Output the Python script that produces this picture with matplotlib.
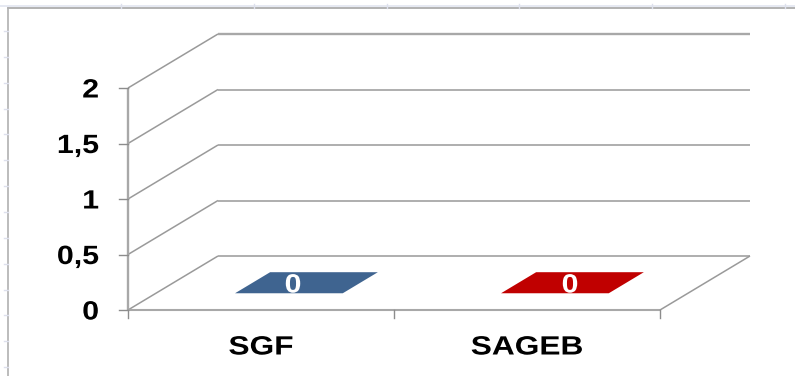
import numpy as np
import matplotlib
matplotlib.use("Agg")
import matplotlib.pyplot as plt
from matplotlib.patheffects import AbstractPathEffect
from matplotlib.transforms import Affine2D

categories = ["SGF", "SAGEB"]
values = [0, 0]
bar_colors = ["#3F6490", "#C00000"]
value_label_shift = [-13, -2]
y_ticks = [0, 0.5, 1, 1.5, 2]
y_labels = ["0", "0,5", "1", "1,5", "2"]

# front corner of the 3d box and how far the back wall is shifted, in pixels
X0, Y0 = 128.0, 310.0
CAT_W = 266.0
UNIT_H = 111.0
DEPTH_X, DEPTH_Y = 90.0, -54.0
BAR_W = 0.405
BAR_D0, BAR_D1 = 0.31, 0.70
GRID = "#A8A8A8"
FONT = "Liberation Sans"


class Widen(AbstractPathEffect):
    # stretches a text horizontally around its anchor, the font has no wide cut
    def __init__(self, anchor_x, factor):
        super().__init__()
        self.anchor_x = anchor_x
        self.factor = factor

    def draw_path(self, renderer, gc, tpath, affine, rgbFace=None):
        stretch = Affine2D().translate(-self.anchor_x, 0).scale(self.factor, 1).translate(self.anchor_x, 0)
        renderer.draw_path(gc, tpath, affine + stretch, rgbFace)


def wide_text(ax, x, y, s, ha, color="black", size=19, widen=1.15):
    t = ax.text(x, y, s, ha=ha, va="center_baseline", fontsize=size,
                fontweight="bold", family=FONT, color=color)
    t.set_path_effects([Widen(ax.transData.transform((x, y))[0], widen)])
    return t


def project(cat, val, depth=0.0):
    # category position, value and depth into figure pixels
    px = X0 + cat * CAT_W + depth * DEPTH_X
    py = Y0 - val * UNIT_H + depth * DEPTH_Y
    return px, py


def line3d(ax, a, b, lw=1.0, color=GRID):
    p = project(*a)
    q = project(*b)
    ax.plot([p[0], q[0]], [p[1], q[1]], color=color, lw=lw, solid_capstyle="butt")


fig = plt.figure(figsize=(7.95, 3.76), dpi=100)
ax = fig.add_axes([0, 0, 1, 1])
ax.set_xlim(0, 795)
ax.set_ylim(376, 0)
ax.axis("off")

ncat = len(categories)

# frame of the page behind the chart, with its faint ruler marks
ax.plot([0, 795], [5.5, 5.5], color="#E2E5F0", lw=1.2)
ax.plot([8, 795], [8, 8], color="#A6A6A6", lw=1.2)
ax.plot([8, 8], [8, 376], color="#B0B0B0", lw=1.2)
for ry in np.arange(31, 376, 25.85):
    ax.plot([4, 8], [ry, ry], color="#DDE0EC", lw=1.0)
for rx in np.arange(121, 795, 132.8):
    ax.plot([rx, rx], [4, 8], color="#DDE0EC", lw=1.0)

# gridlines on the side and back walls
for v in y_ticks:
    w = 1.7 if v == max(y_ticks) else 1.3
    line3d(ax, (0, v, 0), (0, v, 1), lw=1.1, color="#9A9A9A")
    line3d(ax, (0, v, 1), (ncat, v, 1), lw=w)

# floor edges
line3d(ax, (0, 0, 0), (ncat, 0, 0), lw=1.5)
line3d(ax, (ncat, 0, 0), (ncat, 0, 1), lw=1.1, color="#9A9A9A")

# value axis with its ticks and labels
line3d(ax, (0, 0, 0), (0, max(y_ticks), 0), lw=1.7)
for v, lab in zip(y_ticks, y_labels):
    px, py = project(0, v)
    ax.plot([px - 9, px], [py, py], color="#8C8C8C", lw=1.0)
    wide_text(ax, 99, py, lab, "right")

# category ticks and labels
for i in range(ncat + 1):
    px, py = project(i, 0)
    ax.plot([px, px], [py, py + 8], color="#8C8C8C", lw=1.0)
for i, name in enumerate(categories):
    px, py = project(i + 0.5, 0)
    wide_text(ax, px, 345, name, "center", widen=1.2)

# zero height bars show up as flat parallelograms on the floor
for i, (val, col) in enumerate(zip(values, bar_colors)):
    c = i + 0.5
    corners = [project(c - BAR_W / 2, val, BAR_D0), project(c + BAR_W / 2, val, BAR_D0),
               project(c + BAR_W / 2, val, BAR_D1), project(c - BAR_W / 2, val, BAR_D1)]
    ax.fill([p[0] for p in corners], [p[1] for p in corners], color=col, lw=0)
    px, py = project(c, val, 0.5)
    wide_text(ax, px + value_label_shift[i], py, str(val), "center", color="white")

fig.savefig("out.png", dpi=100)
